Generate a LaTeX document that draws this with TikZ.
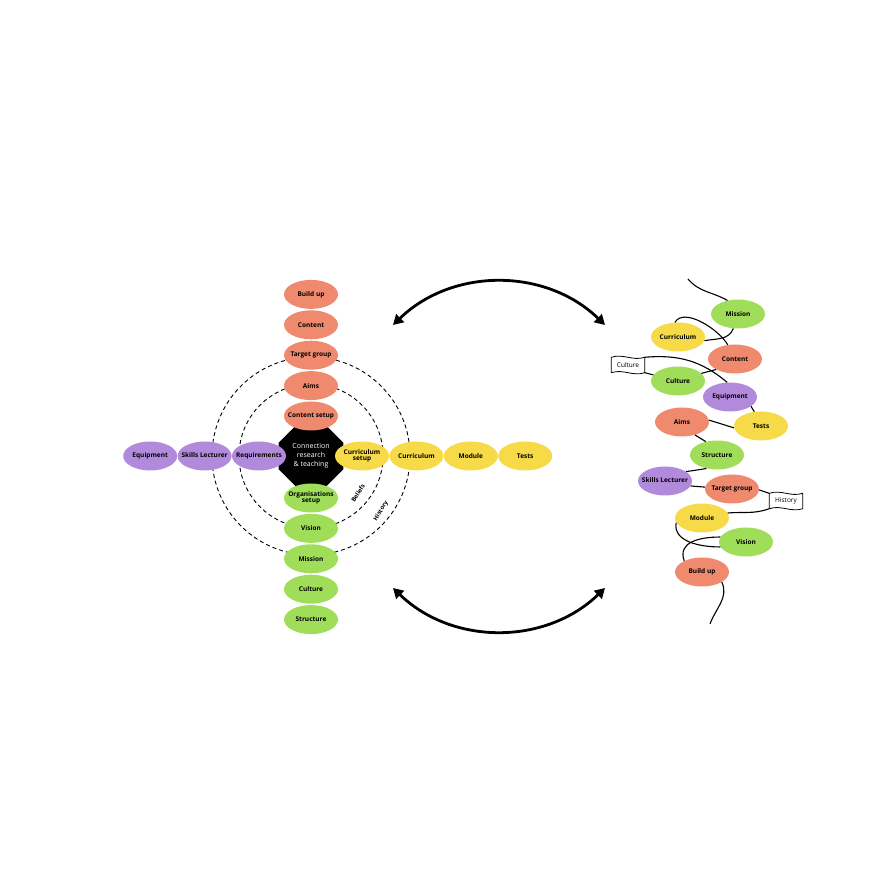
\documentclass[tikz,border=0pt]{standalone}
\usepackage{fontspec}
\setmainfont{Open Sans}
\usepackage{tikz}
\usetikzlibrary{positioning, arrows.meta, shapes.geometric}

\definecolor{salmon}{RGB}{240,138,110}
\definecolor{lima}{RGB}{160,222,90}
\definecolor{lila}{RGB}{178,138,220}
\definecolor{mostaza}{RGB}{247,218,72}

% texto que no ensancha la elipse
\newcommand{\encoge}[1]{\makebox[0pt]{\begin{tabular}{@{}c@{}}#1\end{tabular}}}

\begin{document}
\begin{tikzpicture}[x=1pt, y=1pt, node distance=1pt, >={Triangle[length=10pt,width=11pt]},
    bola/.style={ellipse, minimum width=54pt, minimum height=29pt, inner sep=0pt, align=center,
                 font=\bfseries\fontsize{6.5}{6.5}\selectfont},
    og/.style={bola, fill=salmon},
    gr/.style={bola, fill=lima},
    pu/.style={bola, fill=lila},
    ye/.style={bola, fill=mostaza},
    anillo/.style={draw, line width=0.9pt, dash pattern=on 4pt off 3pt},
    etiq/.style={font=\bfseries\fontsize{6}{6}\selectfont, inner sep=0pt},
    bandera/.style={minimum width=33pt, minimum height=15pt, inner sep=0pt, font=\fontsize{6.5}{6.5}\selectfont},
    hilo/.style={line width=1.1pt},
    ciclo/.style={line width=2.8pt}]

    \useasboundingbox (0,0) rectangle (896,896);

    % Anillos punteados alrededor del centro
    \coordinate (centro) at (311,440);
    \draw[anillo] (centro) circle[radius=99];
    \draw[anillo] (centro) circle[radius=72];

    % Nodo central
    \node[regular polygon, regular polygon sides=8, minimum size=70pt, fill=black, text=white,
          align=center, font=\fontsize{7}{9}\selectfont] (hub) at (centro) {Connection\\research\\\& teaching};

    % Brazo superior (naranja)
    \node[og] (csetup) at (311,480) {\encoge{Content setup}};
    \node[og] (aims) [above=of csetup] {Aims};
    \node[og] (target) [above=of aims] {\encoge{Target group}};
    \node[og] (content) [above=of target] {Content};
    \node[og] (buildup) [above=of content] {Build up};

    % Brazo inferior (verde)
    \node[gr] (osetup) at (311,398) {\encoge{Organisations\\setup}};
    \node[gr] (vision) [below=of osetup] {Vision};
    \node[gr] (mission) [below=of vision] {Mission};
    \node[gr] (culture) [below=of mission] {Culture};
    \node[gr] (structure) [below=of culture] {Structure};

    % Brazo izquierdo (lila)
    \node[pu] (requir) at (259,440) {\encoge{Requirements}};
    \node[pu] (skills) [left=0pt of requir] {\encoge{Skills Lecturer}};
    \node[pu] (equip) [left=0pt of skills] {Equipment};

    % Brazo derecho (amarillo)
    \node[ye] (cursetup) at (362,440) {Curriculum\\setup};
    \node[ye] (curric) [right=0pt of cursetup] {Curriculum};
    \node[ye] (module) [right=0pt of curric] {Module};
    \node[ye] (tests) [right=0pt of module] {Tests};

    % Rotulos de los anillos
    \node[etiq, rotate=58] (beliefs) at (358,403) {Beliefs};
    \node[etiq, rotate=58] (history) at (381,385) {History};

    % Flechas de ida y vuelta
    \coordinate (arrA) at (393,571);
    \coordinate (arrB) at (605,571);
    \coordinate (arrC) at (393,308);
    \coordinate (arrD) at (605,308);
    \draw[ciclo, <->] (arrA) to[bend left=44] (arrB);
    \draw[ciclo, <->] (arrC) to[bend right=44] (arrD);

    % Hilo de la derecha: los mismos temas en desorden
    \node[gr] (rmis) at (738,582) {Mission};
    \node[ye] (rcur) at (678,559) {Curriculum};
    \node[og] (rcon) at (735,537) {Content};
    \node[gr] (rclt) at (678,515) {Culture};
    \node[pu] (requ) at (730,499) {Equipment};
    \node[og] (raim) at (682,474) {Aims};
    \node[ye] (rtst) at (761,470) {Tests};
    \node[gr] (rstr) at (717,441) {Structure};
    \node[pu] (rskl) at (665,415) {\encoge{Skills Lecturer}};
    \node[og] (rtgt) at (732,407) {\encoge{Target group}};
    \node[ye] (rmod) at (702,378) {Module};
    \node[gr] (rvis) at (746,354) {Vision};
    \node[og] (rbld) at (702,324) {Build up};

    % Banderas
    \node[bandera] (fcul) at (628,531) {Culture};
    \node[bandera] (fhis) at (786,395) {History};
    \draw[line width=0.8pt] (fcul.south west) -- (fcul.north west)
        .. controls +(12,4) and +(-12,-4) .. (fcul.north east) -- (fcul.south east)
        .. controls +(-12,-4) and +(12,4) .. (fcul.south west);
    \draw[line width=0.8pt] (fhis.south west) -- (fhis.north west)
        .. controls +(12,4) and +(-12,-4) .. (fhis.north east) -- (fhis.south east)
        .. controls +(-12,-4) and +(12,4) .. (fhis.south west);

    \coordinate (inicio) at (688,617);
    \coordinate (final) at (710,272);

    \path[hilo]
    (inicio) edge[out=-50, in=150] (rmis.128)
    (rmis.252) edge[out=-110, in=10] (rcur.-8)
    (rcur.102) edge[out=60, in=120, looseness=0.8] (rcon.117)
    (rcon.209) edge (rclt.18)
    (fcul.north east) edge[out=5, in=140] (requ.101)
    (fcul.south east) edge (rclt.166)
    (requ.-24) edge (rtst.115)
    (rtst.184) edge (raim.4)
    (raim.-45) edge (rstr.130)
    (rstr.232) edge (rskl.24)
    (rskl.-11) edge (rtgt.176)
    (rtgt.-2) edge (fhis.north west)
    (fhis.south west) edge[out=200, in=5] (rmod.11)
    (rmod.190) edge[out=-100, in=180] (rvis.191)
    (rvis.169) edge[out=180, in=110, looseness=1.2] (rbld.148)
    (rbld.-27) edge[out=-65, in=70] (final);
\end{tikzpicture}
\end{document}
